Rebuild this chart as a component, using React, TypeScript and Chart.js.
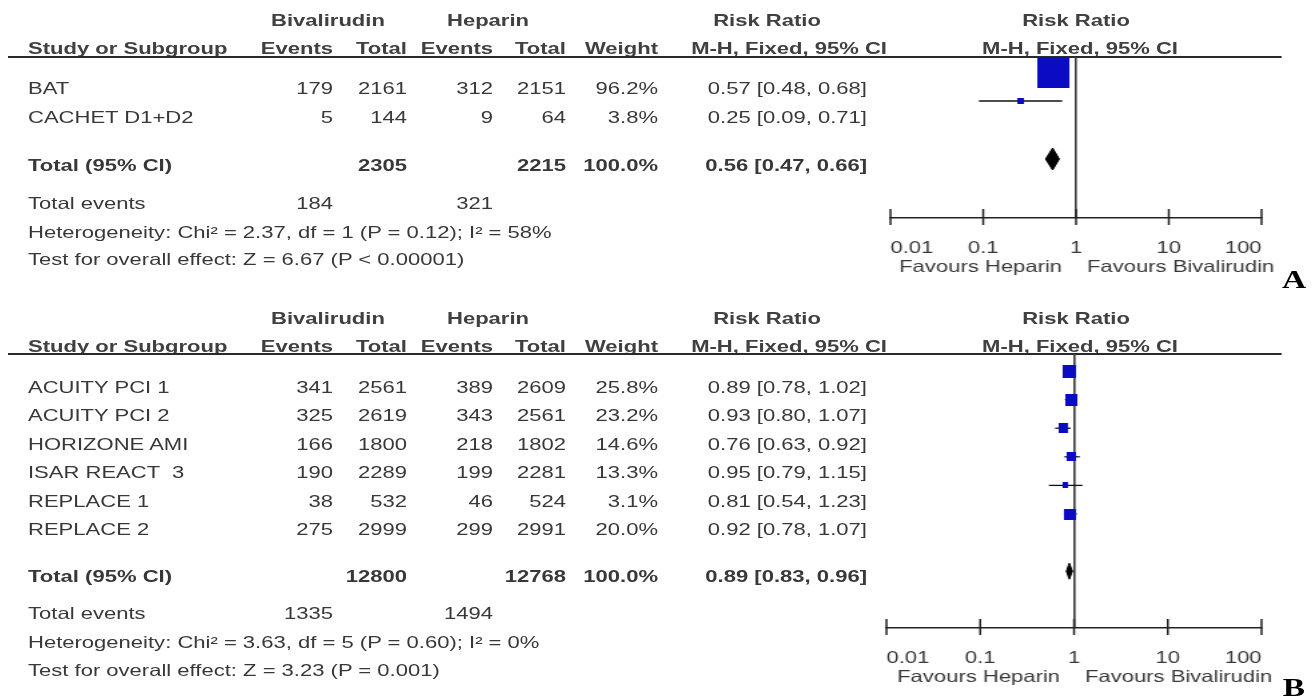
import React, { useEffect, useRef } from 'react';
import { Chart, registerables } from 'chart.js';

Chart.register(...registerables);

const W = 1313;
const H = 697;
const S = 1.335; // horizontal stretch of the whole figure
const FONT = '"Liberation Sans", Arial, Helvetica, sans-serif';
const SERIF = '"Liberation Serif", "Times New Roman", serif';
const FS = 16.5;
const TEXT = '#383838';
const HEAD = '#404040';
const BLUE = '#0b0bc4';

// ---------------- data ----------------
const TICK_VALUES = [0.01, 0.1, 1, 10, 100];
const TICK_LABELS = ['0.01', '0.1', '1', '10', '100'];
const FAVOURS_LEFT = 'Favours Heparin';
const FAVOURS_RIGHT = 'Favours Bivalirudin';
const GROUP_LABELS = ['Bivalirudin', 'Heparin'];
const EFFECT_LABEL = 'Risk Ratio';
const METHOD_LABEL = 'M-H, Fixed, 95% CI';

// Panel A
const A_STUDIES = ['BAT', 'CACHET D1+D2'];
const A_BIV_EVENTS = [179, 5];
const A_BIV_TOTAL = [2161, 144];
const A_HEP_EVENTS = [312, 9];
const A_HEP_TOTAL = [2151, 64];
const A_WEIGHT = [96.2, 3.8];
const A_RR = [0.57, 0.25];
const A_LO = [0.48, 0.09];
const A_HI = [0.68, 0.71];
const A_POOLED = [0.56, 0.47, 0.66];
const A_TOTALS = [2305, 2215];
const A_TOTAL_EVENTS = [184, 321];
const A_HET = 'Heterogeneity: Chi\u00b2 = 2.37, df = 1 (P = 0.12); I\u00b2 = 58%';
const A_TEST = 'Test for overall effect: Z = 6.67 (P < 0.00001)';

// Panel B
const B_STUDIES = ['ACUITY PCI 1', 'ACUITY PCI 2', 'HORIZONE AMI', 'ISAR REACT  3', 'REPLACE 1', 'REPLACE 2'];
const B_BIV_EVENTS = [341, 325, 166, 190, 38, 275];
const B_BIV_TOTAL = [2561, 2619, 1800, 2289, 532, 2999];
const B_HEP_EVENTS = [389, 343, 218, 199, 46, 299];
const B_HEP_TOTAL = [2609, 2561, 1802, 2281, 524, 2991];
const B_WEIGHT = [25.8, 23.2, 14.6, 13.3, 3.1, 20.0];
const B_RR = [0.89, 0.93, 0.76, 0.95, 0.81, 0.92];
const B_LO = [0.78, 0.8, 0.63, 0.79, 0.54, 0.78];
const B_HI = [1.02, 1.07, 0.92, 1.15, 1.23, 1.07];
const B_POOLED = [0.89, 0.83, 0.96];
const B_TOTALS = [12800, 12768];
const B_TOTAL_EVENTS = [1335, 1494];
const B_HET = 'Heterogeneity: Chi\u00b2 = 3.63, df = 5 (P = 0.60); I\u00b2 = 0%';
const B_TEST = 'Test for overall effect: Z = 3.23 (P = 0.001)';

// ---------------- layout (target pixel coordinates) ----------------
const COL = {
  study: 28, bivEv: 333, bivTot: 407, hepEv: 493, hepTot: 566, weight: 658, ci: 867,
  bivHdr: 328, hepHdr: 488, rrHdr: 767, mhRight: 887, plotHdr: 1076, plotMH: 1080,
  lineL: 8, lineR: 1282, letter: 1294,
};

const GA = {
  hdr1: 20, hdr2: 48, line: 57, row0: 88, step: 29, total: 165, events: 203, het: 232, test: 259, letterY: 280,
  canvasTop: 0, axisY: 218, mark0: 72, markStep: 29, x0: 890.5, x1: 1261.5, sqK: 3.26, sqMin: 6, diaHalf: 11,
};
const GB = {
  hdr1: 318, hdr2: 346, line: 354, row0: 387, step: 28.4, total: 576, events: 613, het: 642, test: 670, letterY: 688,
  canvasTop: 300, axisY: 628, mark0: 371, markStep: 28.6, x0: 886, x1: 1261, sqK: 2.56, sqMin: 6, diaHalf: 8,
};

const PANEL_A = {
  studies: A_STUDIES, bivEvents: A_BIV_EVENTS, bivTotal: A_BIV_TOTAL, hepEvents: A_HEP_EVENTS, hepTotal: A_HEP_TOTAL,
  weight: A_WEIGHT, rr: A_RR, lo: A_LO, hi: A_HI, pooled: A_POOLED, totals: A_TOTALS, totalEvents: A_TOTAL_EVENTS,
  het: A_HET, test: A_TEST, letter: 'A',
};
const PANEL_B = {
  studies: B_STUDIES, bivEvents: B_BIV_EVENTS, bivTotal: B_BIV_TOTAL, hepEvents: B_HEP_EVENTS, hepTotal: B_HEP_TOTAL,
  weight: B_WEIGHT, rr: B_RR, lo: B_LO, hi: B_HI, pooled: B_POOLED, totals: B_TOTALS, totalEvents: B_TOTAL_EVENTS,
  het: B_HET, test: B_TEST, letter: 'B',
};

const fmtCI = (r: number, l: number, h: number) => `${r.toFixed(2)} [${l.toFixed(2)}, ${h.toFixed(2)}]`;

function T(props: { x: number; y: number; text: string | number; align?: string; bold?: boolean; color?: string; size?: number; family?: string }) {
  const { x, y, text, align = 'left', bold = false, color = TEXT, size = FS, family = FONT } = props;
  const style: any = {
    position: 'absolute', top: y - 10, height: 20, lineHeight: '20px', fontSize: size, fontFamily: family,
    fontWeight: bold ? 'bold' : 'normal', color, whiteSpace: 'pre',
  };
  const ux = x / S;
  if (align === 'left') style.left = ux;
  else if (align === 'right') style.right = W / S - ux;
  else { style.left = ux; style.transform = 'translateX(-50%)'; }
  return <div style={style}>{text}</div>;
}

function Table({ d, g }: any) {
  const items: any[] = [];
  let k = 0;
  const add = (p: any) => items.push(<T key={k++} {...p} />);
  add({ x: COL.bivHdr, y: g.hdr1, text: GROUP_LABELS[0], align: 'center', bold: true, color: HEAD });
  add({ x: COL.hepHdr, y: g.hdr1, text: GROUP_LABELS[1], align: 'center', bold: true, color: HEAD });
  add({ x: COL.rrHdr, y: g.hdr1, text: EFFECT_LABEL, align: 'center', bold: true, color: HEAD });
  add({ x: COL.plotHdr, y: g.hdr1, text: EFFECT_LABEL, align: 'center', bold: true, color: HEAD });
  add({ x: COL.study, y: g.hdr2, text: 'Study or Subgroup', bold: true, color: HEAD });
  add({ x: COL.bivEv, y: g.hdr2, text: 'Events', align: 'right', bold: true, color: HEAD });
  add({ x: COL.bivTot, y: g.hdr2, text: 'Total', align: 'right', bold: true, color: HEAD });
  add({ x: COL.hepEv, y: g.hdr2, text: 'Events', align: 'right', bold: true, color: HEAD });
  add({ x: COL.hepTot, y: g.hdr2, text: 'Total', align: 'right', bold: true, color: HEAD });
  add({ x: COL.weight, y: g.hdr2, text: 'Weight', align: 'right', bold: true, color: HEAD });
  add({ x: COL.mhRight, y: g.hdr2, text: METHOD_LABEL, align: 'right', bold: true, color: HEAD });
  add({ x: COL.plotMH, y: g.hdr2, text: METHOD_LABEL, align: 'center', bold: true, color: HEAD });
  d.studies.forEach((s: string, i: number) => {
    const y = g.row0 + i * g.step;
    add({ x: COL.study, y, text: s });
    add({ x: COL.bivEv, y, text: d.bivEvents[i], align: 'right' });
    add({ x: COL.bivTot, y, text: d.bivTotal[i], align: 'right' });
    add({ x: COL.hepEv, y, text: d.hepEvents[i], align: 'right' });
    add({ x: COL.hepTot, y, text: d.hepTotal[i], align: 'right' });
    add({ x: COL.weight, y, text: `${d.weight[i].toFixed(1)}%`, align: 'right' });
    add({ x: COL.ci, y, text: fmtCI(d.rr[i], d.lo[i], d.hi[i]), align: 'right' });
  });
  const wsum = d.weight.reduce((a: number, b: number) => a + b, 0);
  add({ x: COL.study, y: g.total, text: 'Total (95% CI)', bold: true });
  add({ x: COL.bivTot, y: g.total, text: d.totals[0], align: 'right', bold: true });
  add({ x: COL.hepTot, y: g.total, text: d.totals[1], align: 'right', bold: true });
  add({ x: COL.weight, y: g.total, text: `${wsum.toFixed(1)}%`, align: 'right', bold: true });
  add({ x: COL.ci, y: g.total, text: fmtCI(d.pooled[0], d.pooled[1], d.pooled[2]), align: 'right', bold: true });
  add({ x: COL.study, y: g.events, text: 'Total events' });
  add({ x: COL.bivEv, y: g.events, text: d.totalEvents[0], align: 'right' });
  add({ x: COL.hepEv, y: g.events, text: d.totalEvents[1], align: 'right' });
  add({ x: COL.study, y: g.het, text: d.het });
  add({ x: COL.study, y: g.test, text: d.test });
  add({ x: COL.letter, y: g.letterY, text: d.letter, align: 'center', bold: true, color: '#000', size: 25, family: SERIF });
  items.push(
    <div key={k++} style={{ position: 'absolute', left: COL.lineL / S, top: g.line - 1, width: (COL.lineR - COL.lineL) / S, height: 2, background: '#2a2a2a' }} />
  );
  return <>{items}</>;
}

function ForestChart({ d, g }: any) {
  const ref = useRef<HTMLCanvasElement>(null);
  const PAD_L = 8;
  const PAD_R = 24;
  const AXH = 70;
  const cw = Math.round((g.x1 - g.x0) / S + PAD_L + PAD_R);
  const ch = Math.round(g.axisY - g.canvasTop + AXH);
  useEffect(() => {
    if (!ref.current) return;
    const n = d.studies.length;
    const squares = d.weight.map((w: number) => {
      const side = Math.max(g.sqMin, g.sqK * Math.sqrt(w));
      const c = document.createElement('canvas');
      c.width = Math.max(2, Math.round(side / S));
      c.height = Math.max(2, Math.round(side));
      const cx = c.getContext('2d')!;
      cx.fillStyle = BLUE;
      cx.fillRect(0, 0, c.width, c.height);
      return c;
    });
    const diaRow = n + 1;
    const dh = g.diaHalf / g.markStep;
    const [prr, plo, phi] = d.pooled;
    const datasets: any[] = [
      { label: 'studies', data: d.rr.map((v: number, i: number) => ({ x: v, y: i })), pointStyle: squares, pointRadius: 5, showLine: false },
      ...d.lo.map((lo: number, i: number) => ({
        label: 'ci' + i, data: [{ x: lo, y: i }, { x: d.hi[i], y: i }], showLine: true,
        borderColor: '#111', borderWidth: 1.3, pointRadius: 0,
      })),
      {
        label: 'pooled',
        data: [{ x: plo, y: diaRow }, { x: prr, y: diaRow - dh }, { x: phi, y: diaRow }, { x: prr, y: diaRow + dh }, { x: plo, y: diaRow }],
        showLine: true, fill: 'shape', backgroundColor: '#000', borderColor: '#000', borderWidth: 1, pointRadius: 0,
      },
    ];
    const axisPlugin = {
      id: 'forestAxis',
      afterDraw(chart: any) {
        const sc = chart.scales.x;
        const ctx = chart.ctx;
        const y0 = sc.top;
        ctx.save();
        ctx.strokeStyle = '#222';
        ctx.lineWidth = 1.5;
        sc.ticks.forEach((t: any) => {
          const px = sc.getPixelForValue(t.value);
          ctx.beginPath();
          ctx.moveTo(px, y0 - 9);
          ctx.lineTo(px, y0 + 7);
          ctx.stroke();
        });
        const p1 = sc.getPixelForValue(1);
        ctx.font = `${FS}px ${FONT}`;
        ctx.fillStyle = TEXT;
        ctx.textBaseline = 'middle';
        ctx.textAlign = 'right';
        ctx.fillText(FAVOURS_LEFT, p1 - 14 / S, y0 + 49);
        ctx.textAlign = 'left';
        ctx.fillText(FAVOURS_RIGHT, p1 + 11 / S, y0 + 49);
        ctx.restore();
      },
    };
    const chart = new Chart(ref.current, {
      type: 'scatter',
      data: { datasets },
      options: {
        responsive: false,
        animation: false,
        devicePixelRatio: 1,
        events: [],
        layout: { padding: { left: PAD_L, right: PAD_R, top: g.line - g.canvasTop, bottom: 0 } },
        plugins: { legend: { display: false }, tooltip: { enabled: false }, title: { display: false } },
        scales: {
          x: {
            type: 'logarithmic', min: 0.01, max: 100, position: 'bottom',
            afterBuildTicks: (sc: any) => { sc.ticks = TICK_VALUES.map((v) => ({ value: v })); },
            afterFit: (sc: any) => { sc.height = AXH; },
            ticks: {
              autoSkip: false, maxRotation: 0, minRotation: 0, align: 'inner', padding: 3, color: TEXT,
              font: { family: FONT, size: FS }, callback: (_v: any, i: number) => TICK_LABELS[i],
            },
            grid: {
              drawOnChartArea: true, drawTicks: true, tickLength: 18, tickColor: 'rgba(0,0,0,0)',
              color: (c: any) => (c.tick && c.tick.value === 1 ? '#3a3a3a' : 'rgba(0,0,0,0)'), lineWidth: 1.6,
            },
            border: { display: true, color: '#222', width: 1.5 },
          },
          y: {
            type: 'linear', display: false, reverse: true,
            min: (g.line - g.mark0) / g.markStep, max: (g.axisY - g.mark0) / g.markStep,
          },
        },
      } as any,
      plugins: [axisPlugin],
    });
    return () => chart.destroy();
  }, []);
  return (
    <canvas
      ref={ref}
      width={cw}
      height={ch}
      style={{ position: 'absolute', left: g.x0 / S - PAD_L, top: g.canvasTop, width: cw, height: ch }}
    />
  );
}

export default function App() {
  useEffect(() => { document.body.style.margin = '0'; }, []);
  return (
    <div style={{ position: 'fixed', left: 0, top: 0, width: W, height: H, background: '#fff', overflow: 'hidden' }}>
      <div style={{ position: 'absolute', left: 0, top: 0, width: W / S, height: H, transform: `scaleX(${S})`, transformOrigin: '0 0', fontFamily: FONT }}>
        <Table d={PANEL_A} g={GA} />
        <ForestChart d={PANEL_A} g={GA} />
        <Table d={PANEL_B} g={GB} />
        <ForestChart d={PANEL_B} g={GB} />
      </div>
    </div>
  );
}
